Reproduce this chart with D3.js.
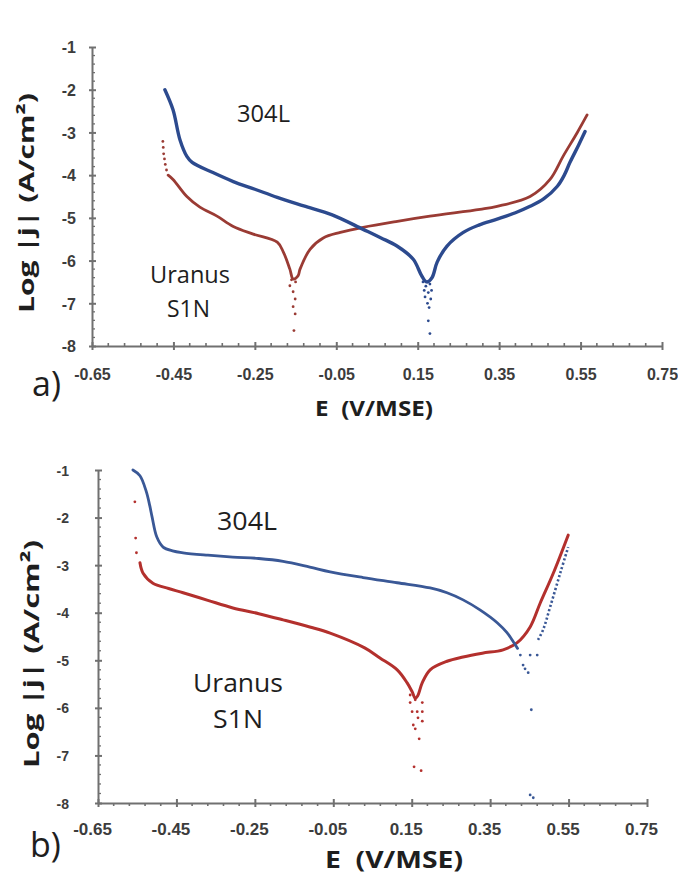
<!DOCTYPE html>
<html><head><meta charset="utf-8">
<script src="https://cdn.jsdelivr.net/npm/d3@7"></script>
<style>body{margin:0;background:#fff}svg{display:block}</style>
</head><body>
<svg id="chart" width="678" height="881"></svg>
<script>
// ---------- data ----------
const xTicks = [-0.65, -0.45, -0.25, -0.05, 0.15, 0.35, 0.55, 0.75];
const yTicks = [-1, -2, -3, -4, -5, -6, -7, -8];
const panelLabels = ["a)", "b)"];
const seriesNames = ["304L", "Uranus", "S1N"];

// Panel a : 304L (blue) – continuous branch, [E, log|j|]
const a_304L = [[-0.471,-2.0],[-0.451,-2.47],[-0.434,-3.17],[-0.417,-3.56],[-0.404,-3.70],[-0.353,-3.94],
  [-0.303,-4.15],[-0.25,-4.33],[-0.195,-4.52],[-0.13,-4.72],[-0.06,-4.93],[0.016,-5.27],[0.06,-5.47],
  [0.099,-5.66],[0.139,-5.97],[0.16,-6.36],[0.172,-6.5],[0.185,-6.4],[0.198,-6.03],[0.222,-5.66],
  [0.262,-5.34],[0.3,-5.17],[0.345,-5.03],[0.39,-4.88],[0.426,-4.73],[0.46,-4.55],[0.493,-4.26],
  [0.51,-4.0],[0.524,-3.70],[0.545,-3.3],[0.561,-2.98]];
const a_304L_dots = [[0.163,-6.5],[0.17,-6.6],[0.18,-6.55],[0.176,-6.75],[0.168,-6.85],[0.182,-6.9],
  [0.174,-7.0],[0.178,-7.1],[0.166,-6.7],[0.184,-6.7],[0.176,-7.41],[0.18,-7.71]];
// Panel a : Uranus S1N (red)
const a_S1N = [[-0.463,-4.0],[-0.451,-4.10],[-0.417,-4.50],[-0.385,-4.75],[-0.343,-4.96],[-0.303,-5.20],
  [-0.254,-5.38],[-0.195,-5.57],[-0.18,-5.80],[-0.164,-6.20],[-0.156,-6.43],[-0.144,-6.36],[-0.139,-6.20],
  [-0.114,-5.73],[-0.082,-5.47],[-0.04,-5.34],[0.016,-5.22],[0.1,-5.08],[0.18,-4.96],[0.303,-4.80],
  [0.345,-4.73],[0.426,-4.50],[0.475,-4.10],[0.507,-3.56],[0.542,-3.0],[0.566,-2.59]];
const a_S1N_dots = [[-0.476,-3.21],[-0.475,-3.35],[-0.474,-3.5],[-0.472,-3.62],[-0.47,-3.75],[-0.467,-3.88],
  [-0.164,-6.59],[-0.156,-6.73],[-0.151,-6.90],[-0.156,-7.08],[-0.151,-7.25],[-0.154,-7.64],[-0.16,-6.45],[-0.15,-6.5]];

// Panel b : 304L (blue)
const b_304L = [[-0.561,-1.0],[-0.543,-1.12],[-0.527,-1.45],[-0.518,-1.75],[-0.512,-1.99],[-0.5,-2.41],
  [-0.484,-2.62],[-0.46,-2.70],[-0.433,-2.74],[-0.37,-2.79],[-0.306,-2.83],[-0.24,-2.86],[-0.178,-2.92],
  [-0.11,-3.04],[-0.058,-3.14],[0.026,-3.26],[0.113,-3.37],[0.197,-3.48],[0.24,-3.58],[0.281,-3.73],
  [0.324,-3.94],[0.368,-4.21],[0.393,-4.42],[0.409,-4.61],[0.42,-4.75]];
const b_304L_anodic = [[0.472,-4.57],[0.485,-4.36],[0.503,-3.88],[0.529,-3.16],[0.549,-2.62]];
const b_304L_dots = [[0.427,-4.89],[0.452,-4.89],[0.47,-4.89],[0.434,-5.10],[0.439,-5.18],[0.447,-5.26],
  [0.455,-6.04],[0.452,-7.83],[0.46,-7.89]];
// Panel b : Uranus S1N (red)
const b_S1N = [[-0.543,-2.95],[-0.535,-3.17],[-0.51,-3.38],[-0.47,-3.49],[-0.433,-3.58],[-0.37,-3.74],
  [-0.306,-3.90],[-0.24,-4.02],[-0.178,-4.15],[-0.11,-4.3],[-0.058,-4.43],[0.03,-4.74],[0.069,-4.95],
  [0.113,-5.20],[0.138,-5.47],[0.151,-5.66],[0.159,-5.8],[0.165,-5.75],[0.177,-5.47],[0.197,-5.20],
  [0.24,-5.02],[0.281,-4.93],[0.33,-4.85],[0.383,-4.78],[0.419,-4.63],[0.452,-4.30],[0.478,-3.79],
  [0.511,-3.17],[0.549,-2.37]];
const b_S1N_dots = [[-0.556,-1.67],[-0.554,-2.43],[-0.552,-2.74],
  [0.146,-5.73],[0.159,-5.83],[0.146,-5.89],[0.177,-5.89],[0.151,-6.08],[0.164,-6.08],[0.177,-6.08],
  [0.166,-6.21],[0.177,-6.28],[0.154,-6.36],[0.159,-6.44],[0.169,-6.65],[0.156,-7.24],[0.174,-7.32]];

// ---------- layout ----------
const panels = [
  {label: panelLabels[0], x0: 92, x1: 662, y0: 47, y1: 346, blue: "#2c4a8e", red: "#9a3b34", bw: 3.4, rw: 2.8,
   blueLine: a_304L, blueDots: a_304L_dots, redLine: a_S1N, redDots: a_S1N_dots, blueDash: null,
   xFont: 16, yFont: 16, xLabY: 34, xShift: 0, yLabX: 16, minorUp: true,
   lab: {x: 32, y: 396}, t304: {x: 237, y: 122, w: 53, f: 23}, tU: {x: 150, y: 283, w: 80, f: 23}, tS: {x: 167, y: 317, w: 43, f: 23},
   yl: {x: 34, y: 203, w: 220, f: 21}, xl: {x: 315, y: 416, w: 118, f: 21}},
  {label: panelLabels[1], x0: 98, x1: 647, y0: 470, y1: 803, blue: "#3a5896", red: "#b3302d", bw: 2.8, rw: 3.0,
   blueLine: b_304L, blueDots: b_304L_dots, redLine: b_S1N, redDots: b_S1N_dots, blueDash: b_304L_anodic,
   xFont: 17, yFont: 14, xLabY: 32, xShift: -6, yLabX: 29, minorUp: false,
   lab: {x: 30, y: 857}, t304: {x: 217, y: 530, w: 60, f: 25}, tU: {x: 193, y: 692, w: 90, f: 25}, tS: {x: 213, y: 728, w: 50, f: 25},
   yl: {x: 39, y: 654, w: 228, f: 22}, xl: {x: 325, y: 868, w: 138, f: 24}}
];

const svg = d3.select("#chart");
const axisCol = "#707070";
const tickTextCol = "#3c3c3c";

panels.forEach(p => {
  const x = d3.scaleLinear().domain([-0.65, 0.75]).range([p.x0, p.x1]);
  const y = d3.scaleLinear().domain([-1, -8]).range([p.y0, p.y1]);
  const g = svg.append("g");

  // minor ticks
  const xMinor = d3.range(0, 35).map(i => -0.65 + i * 0.04).filter((v, i) => i % 5 !== 0);
  const yMinor = d3.range(0, 36).map(i => -1 - i * 0.2).filter((v, i) => i % 5 !== 0);

  g.selectAll(".xminor").data(xMinor).join("line")
    .attr("x1", d => x(d)).attr("x2", d => x(d))
    .attr("y1", p.y1).attr("y2", p.y1 + (p.minorUp ? -3 : 3))
    .attr("stroke", axisCol).attr("stroke-width", 1.6);
  g.selectAll(".yminor").data(yMinor).join("line")
    .attr("x1", p.x0).attr("x2", p.x0 + 3)
    .attr("y1", d => y(d)).attr("y2", d => y(d))
    .attr("stroke", axisCol).attr("stroke-width", 1.3);

  // x axis
  const xAxis = d3.axisBottom(x).tickValues(xTicks).tickSize(4).tickSizeOuter(0)
    .tickFormat(d => d.toFixed(2));
  const xg = g.append("g").attr("transform", `translate(0,${p.y1})`).call(xAxis);
  xg.select(".domain").attr("stroke", axisCol).attr("stroke-width", 2);
  xg.selectAll(".tick line").attr("y1", -4).attr("stroke", axisCol).attr("stroke-width", 2);
  xg.selectAll(".tick text").attr("y", p.xLabY).attr("dy", 0).attr("dx", p.xShift)
    .attr("font-family", "'Liberation Sans', Arial, sans-serif").attr("font-weight", "bold")
    .attr("font-size", p.xFont).attr("fill", tickTextCol);

  // y axis
  const yAxis = d3.axisLeft(y).tickValues(yTicks).tickSize(3).tickSizeOuter(0)
    .tickFormat(d => String(d));
  const yg = g.append("g").attr("transform", `translate(${p.x0},0)`).call(yAxis);
  yg.select(".domain").attr("stroke", axisCol).attr("stroke-width", 2);
  yg.selectAll(".tick line").attr("x2", 4).attr("x1", -3).attr("stroke", axisCol).attr("stroke-width", 2);
  yg.selectAll(".tick text").attr("x", -p.yLabX).attr("dy", "0.36em")
    .attr("font-family", "'Liberation Sans', Arial, sans-serif").attr("font-weight", "bold")
    .attr("font-size", p.yFont).attr("fill", tickTextCol);

  // curves
  const line = d3.line().x(d => x(d[0])).y(d => y(d[1])).curve(d3.curveCatmullRom.alpha(0.5));
  g.append("path").datum(p.redLine).attr("d", line).attr("fill", "none")
    .attr("stroke", p.red).attr("stroke-width", p.rw).attr("stroke-linejoin", "round").attr("stroke-linecap", "round");
  g.append("path").datum(p.blueLine).attr("d", line).attr("fill", "none")
    .attr("stroke", p.blue).attr("stroke-width", p.bw).attr("stroke-linejoin", "round").attr("stroke-linecap", "round");
  if (p.blueDash) {
    g.append("path").datum(p.blueDash).attr("d", line).attr("fill", "none")
      .attr("stroke", p.blue).attr("stroke-width", 2.6).attr("stroke-dasharray", "2.2,2.2");
  }
  g.selectAll(".rdot").data(p.redDots).join("circle")
    .attr("cx", d => x(d[0])).attr("cy", d => y(d[1])).attr("r", 1.4).attr("fill", p.red);
  g.selectAll(".bdot").data(p.blueDots).join("circle")
    .attr("cx", d => x(d[0])).attr("cy", d => y(d[1])).attr("r", 1.4).attr("fill", p.blue);

  // texts
  const ff = "'Open Sans', 'Noto Sans', sans-serif";
  const txt = (t, o, weight) => g.append("text").attr("x", o.x).attr("y", o.y).text(t)
    .attr("font-family", ff).attr("font-size", o.f).attr("font-weight", weight || "normal")
    .attr("fill", "#1e1e1e").attr("textLength", o.w).attr("lengthAdjust", "spacingAndGlyphs");
  txt(seriesNames[0], p.t304);
  txt(seriesNames[1], p.tU);
  txt(seriesNames[2], p.tS);
  g.append("text").attr("x", p.lab.x).attr("y", p.lab.y).text(p.label)
    .attr("font-family", ff).attr("font-size", 34).attr("fill", "#1e1e1e");
  txt("E\u00A0\u00A0(V/MSE)", p.xl, "bold");
  g.append("text").attr("transform", `translate(${p.yl.x},${p.yl.y}) rotate(-90)`)
    .attr("text-anchor", "middle").attr("font-family", ff).attr("font-weight", "bold")
    .attr("font-size", p.yl.f).attr("fill", "#1e1e1e")
    .attr("textLength", p.yl.w).attr("lengthAdjust", "spacingAndGlyphs")
    .text("Log |j| (A/cm²)");
});
</script>
</body></html>
